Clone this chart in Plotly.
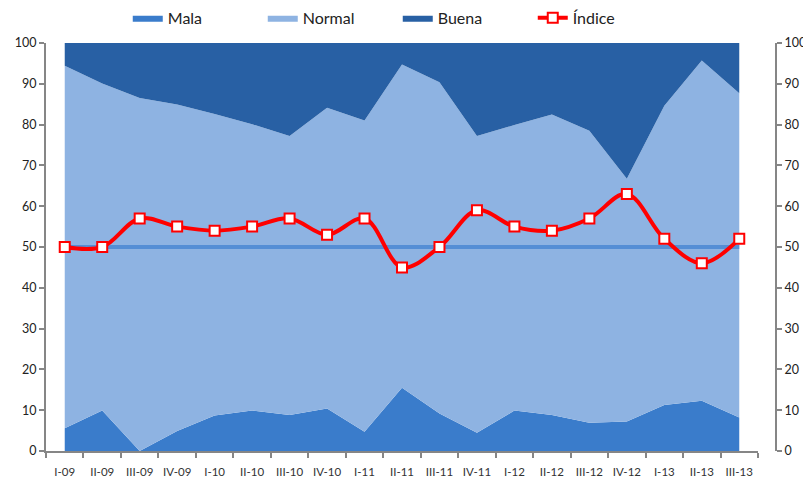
import plotly.graph_objects as go

categorias = ["I-09", "II-09", "III-09", "IV-09", "I-10", "II-10", "III-10", "IV-10",
              "I-11", "II-11", "III-11", "IV-11", "I-12", "II-12", "III-12", "IV-12",
              "I-13", "II-13", "III-13"]
mala = [5.6, 9.9, 0.0, 4.9, 8.7, 9.9, 8.8, 10.4, 4.7, 15.5, 9.2, 4.5, 9.9, 8.8, 6.9, 7.2, 11.3, 12.3, 8.2]
normal = [88.8, 80.2, 86.5, 80.0, 73.9, 70.2, 68.4, 73.7, 76.3, 79.2, 81.2, 72.7, 70.0, 73.7, 71.6, 59.5, 73.3, 83.4, 79.5]
buena = [5.6, 9.9, 13.5, 15.1, 17.4, 19.9, 22.8, 15.9, 19.0, 5.3, 9.6, 22.8, 20.1, 17.5, 21.5, 33.3, 15.4, 4.3, 12.3]
indice = [50, 50, 57, 55, 54, 55, 57, 53, 57, 45, 50, 59, 55, 54, 57, 63, 52, 46, 52]
referencia = [50] * len(categorias)

FONT = "Lato"
fig = go.Figure()
fig.add_trace(go.Scatter(x=categorias, y=mala, name="Mala", stackgroup="a", mode="lines",
                         line=dict(width=0, color="#3A7CCB"), fillcolor="#3A7CCB"))
fig.add_trace(go.Scatter(x=categorias, y=normal, name="Normal", stackgroup="a", mode="lines",
                         line=dict(width=0, color="#8EB3E2"), fillcolor="#8EB3E2"))
fig.add_trace(go.Scatter(x=categorias, y=buena, name="Buena", stackgroup="a", mode="lines",
                         line=dict(width=0, color="#2860A4"), fillcolor="#2860A4"))
fig.add_trace(go.Scatter(x=categorias, y=referencia, mode="lines", showlegend=False,
                         line=dict(width=4, color="#558ED5"), hoverinfo="skip"))
fig.add_trace(go.Scatter(x=categorias, y=indice, name="Índice", mode="lines+markers",
                         line=dict(width=4, color="#FF0000", shape="spline", smoothing=1),
                         marker=dict(symbol="square", size=10, color="white",
                                     line=dict(width=2, color="#FF0000"))))
fig.add_trace(go.Scatter(x=categorias, y=indice, yaxis="y2", mode="lines", showlegend=False,
                         line=dict(width=0), opacity=0, hoverinfo="skip"))

axis_col = "#868686"
fig.update_layout(
    width=803, height=471,
    margin=dict(l=38, r=35, t=35, b=28, autoexpand=False),
    paper_bgcolor="white", plot_bgcolor="white",
    font=dict(family=FONT, size=13, color="#222222"),
    xaxis=dict(type="category", domain=[0, (758 - 46) / 730], range=[-0.5, 18.5],
               tickson="boundaries", ticks="outside", ticklen=5, tickcolor=axis_col, tickwidth=2,
               showline=True, linecolor=axis_col, linewidth=2, showgrid=False,
               tickangle=0, automargin=False, tickfont=dict(size=11.5, color="#333333"),
               ticklabelstandoff=9),
    yaxis=dict(range=[0, 100], dtick=10, ticks="outside", ticklen=5, tickcolor=axis_col,
               tickwidth=2, showline=True, linecolor=axis_col, linewidth=2, showgrid=False,
               zeroline=False, automargin=False, tickfont=dict(size=12.5)),
    yaxis2=dict(range=[0, 100], dtick=10, overlaying="y", side="right", anchor="free",
                position=1.0, ticks="outside", ticklen=5, tickcolor=axis_col, tickwidth=2,
                showline=True, linecolor=axis_col, linewidth=2, showgrid=False, zeroline=False,
                automargin=False, tickfont=dict(size=12.5)),
    legend=dict(orientation="h", x=0.112, xanchor="left", y=1.02, yanchor="bottom",
                font=dict(size=16), entrywidth=90, entrywidthmode="pixels",
                traceorder="normal"),
    showlegend=True,
)
fig.write_html("out.html")
